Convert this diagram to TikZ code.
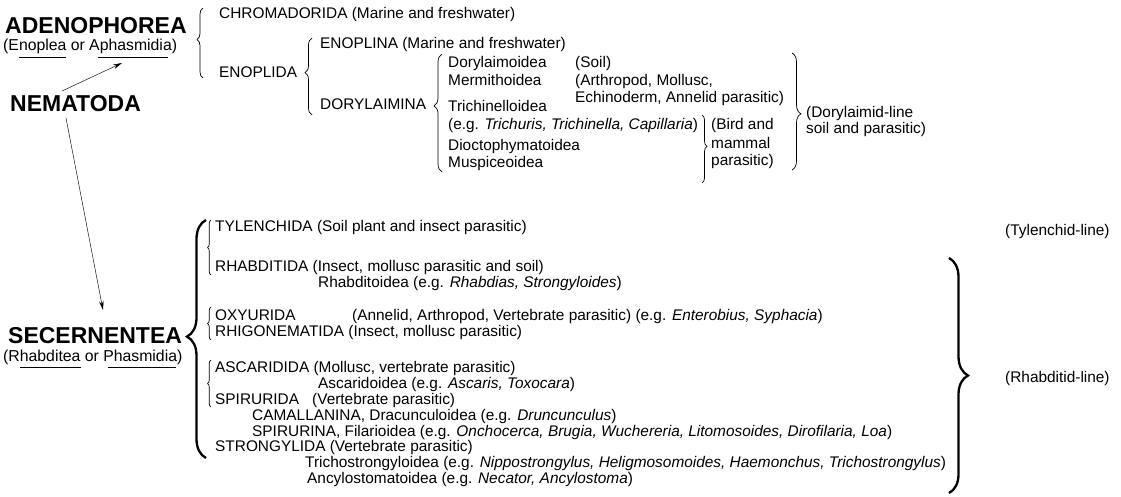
\documentclass[tikz,border=0pt]{standalone}
\usepackage{fontspec}
\setmainfont{Liberation Sans}
\usetikzlibrary{decorations.pathreplacing,arrows.meta}
\begin{document}
\begin{tikzpicture}[x=1pt,y=-1pt,
  every node/.style={inner sep=0pt,anchor=base west,font=\fontsize{15.4}{17}\selectfont},
  head/.style={font=\fontsize{23}{26}\selectfont\bfseries},
  subt/.style={font=\fontsize{15.8}{18}\selectfont},
  lbrace/.style={decorate,decoration={brace,amplitude=#1},line width=0.7pt},
  thickbrace/.style={decorate,decoration={brace,amplitude=#1},line width=2.3pt},
  arr/.style={-{Stealth[length=9pt,width=4.5pt]},line width=0.45pt},
  uline/.style={line width=0.6pt}]
\useasboundingbox (0,0) rectangle (1121,497);
% heads
\node[head] (adeno) at (5,34) {ADENOPHOREA};
\node[subt] (adenosub) at (3,51) {(Enoplea or Aphasmidia)};
\node[head] (nema) at (10,112) {NEMATODA};
\node[head] (secer) at (8,343) {SECERNENTEA};
\node[subt] (secersub) at (3,361) {(Rhabditea or Phasmidia)};
\draw[uline] (19,57) -- (66,57) (98,57) -- (168,57);
\draw[uline] (20,367) -- (81,367) (108,367) -- (176,367);
% arrows
\coordinate (n1) at (62,91);
\coordinate (a1) at (122,63);
\coordinate (n2) at (66,118);
\coordinate (a2) at (103,310);
\draw[arr] (n1) -- (a1);
\draw[arr] (n2) -- (a2);
% top section
\node (chrom) at (219,19) {CHROMADORIDA (Marine and freshwater)};
\node (enoplida) at (219,78) {ENOPLIDA};
\node (enoplina) at (320,49) {ENOPLINA (Marine and freshwater)};
\node (doryl) at (320,110) {DORYLAIMINA};
\node (doryo) at (448,68) {Dorylaimoidea};
\node (soil) at (575,68) {(Soil)};
\node (merm) at (448,86) {Mermithoidea};
\node (arth) at (575,86) {(Arthropod, Mollusc,};
\node (echi) at (575,103) {Echinoderm, Annelid parasitic)};
\node (trich) at (448,112) {Trichinelloidea};
\node (trichg) at (448,130) {(e.g. \textit{Trichuris, Trichinella, Capillaria})};
\node (dioc) at (448,151) {Dioctophymatoidea};
\node (musp) at (448,168) {Muspiceoidea};
\node (bird1) at (711,130) {(Bird and};
\node (bird2) at (711,149) {mammal};
\node (bird3) at (711,166) {parasitic)};
\node (dlin1) at (806,118) {(Dorylaimid-line};
\node (dlin2) at (806,134) {soil and parasitic)};
\draw[lbrace=6pt,decoration={aspect=0.55}] (203,78) -- (203,8);
\draw[lbrace=7pt,decoration={aspect=0.55}] (312,115) -- (312,38);
\draw[lbrace=8pt,decoration={aspect=0.56}] (442,172) -- (442,54);
\draw[lbrace=5pt,decoration={aspect=0.46}] (702,115) -- (702,183);
\draw[lbrace=9pt,decoration={aspect=0.52}] (792,53) -- (792,170);
% bottom section
\node (tyl) at (215,231) {TYLENCHIDA (Soil plant and insect parasitic)};
\node (rhab) at (215,271) {RHABDITIDA (Insect, mollusc parasitic and soil)};
\node (rhabo) at (318,287) {Rhabditoidea (e.g. \textit{Rhabdias, Strongyloides})};
\node (oxy) at (215,320) {OXYURIDA};
\node (oxyt) at (352,320) {(Annelid, Arthropod, Vertebrate parasitic) (e.g. \textit{Enterobius, Syphacia})};
\node (rhig) at (215,336) {RHIGONEMATIDA (Insect, mollusc parasitic)};
\node (asc) at (215,372) {ASCARIDIDA (Mollusc, vertebrate parasitic)};
\node (asco) at (318,388) {Ascaridoidea (e.g. \textit{Ascaris, Toxocara})};
\node (spir) at (215,404) {SPIRURIDA};
\node (spirt) at (312,404) {(Vertebrate parasitic)};
\node (cam) at (252,420) {CAMALLANINA, Dracunculoidea (e.g. \textit{Druncunculus})};
\node (spirina) at (252,436) {SPIRURINA, Filarioidea (e.g. \textit{Onchocerca, Brugia, Wuchereria, Litomosoides, Dirofilaria, Loa})};
\node (stro) at (215,451) {STRONGYLIDA (Vertebrate parasitic)};
\node (trichs) at (305,467) {Trichostrongyloidea (e.g. \textit{Nippostrongylus, Heligmosomoides, Haemonchus, Trichostrongylus})};
\node (ancy) at (307,483) {Ancylostomatoidea (e.g. \textit{Necator, Ancylostoma})};
\node (tylline) at (1005,235) {(Tylenchid-line)};
\node (rhabline) at (1005,382) {(Rhabditid-line)};
\draw[thickbrace=19pt,decoration={aspect=0.51}] (206,458) -- (206,220);
\draw[lbrace=3.5pt] (211,275) -- (211,220);
\draw[lbrace=3.5pt] (211,340) -- (211,307);
\draw[lbrace=3.5pt] (211,407) -- (211,360);
\draw[thickbrace=19pt] (949,258) -- (949,493);
\end{tikzpicture}
\end{document}
